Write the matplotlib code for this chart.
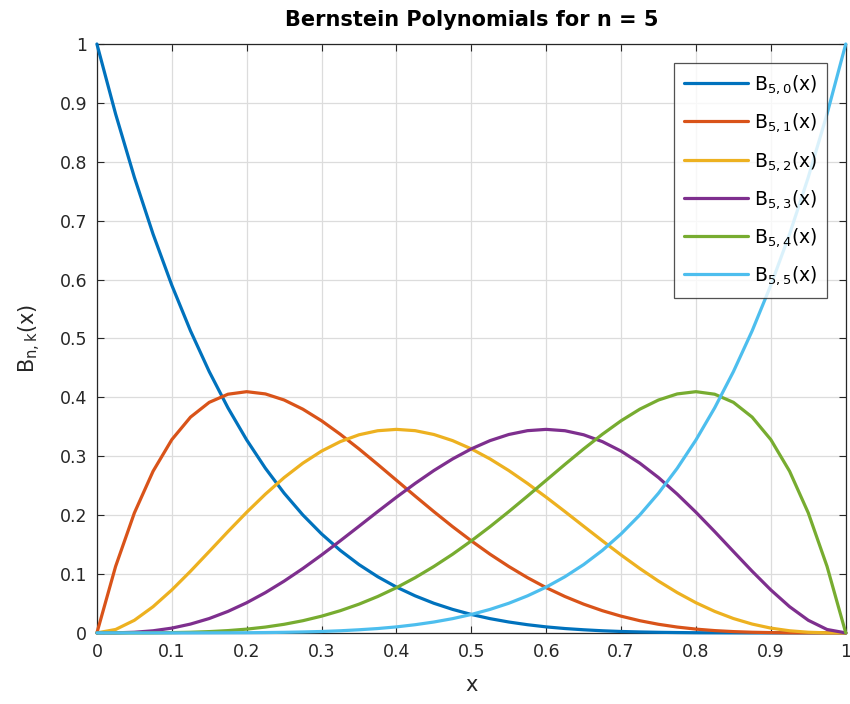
import matplotlib.pyplot as plt

plt.rcParams["font.family"] = ["DejaVu Sans"]
plt.rcParams["mathtext.fontset"] = "custom"
plt.rcParams["mathtext.rm"] = "DejaVu Sans"

# x samples and curve values
x = [i * 0.025 for i in range(41)]
b50 = [1.0000, 0.8811, 0.7738, 0.6772, 0.5905, 0.5129, 0.4437, 0.3822, 0.3277, 0.2796,
       0.2373, 0.2003, 0.1681, 0.1401, 0.1160, 0.0954, 0.0778, 0.0629, 0.0503, 0.0399,
       0.0313, 0.0242, 0.0185, 0.0139, 0.0102, 0.0074, 0.0053, 0.0036, 0.0024, 0.0016,
       0.0010, 0.0006, 0.0003, 0.0002, 0.0001, 0.0000, 0.0000, 0.0000, 0.0000, 0.0000,
       0.0000]
b51 = [0.0000, 0.1130, 0.2036, 0.2745, 0.3281, 0.3664, 0.3915, 0.4053, 0.4096, 0.4058,
       0.3955, 0.3799, 0.3602, 0.3373, 0.3124, 0.2861, 0.2592, 0.2323, 0.2059, 0.1804,
       0.1563, 0.1336, 0.1128, 0.0938, 0.0768, 0.0618, 0.0488, 0.0377, 0.0284, 0.0207,
       0.0146, 0.0099, 0.0064, 0.0039, 0.0022, 0.0011, 0.0005, 0.0001, 0.0000, 0.0000,
       0.0000]
b52 = [0.0000, 0.0058, 0.0214, 0.0445, 0.0729, 0.1047, 0.1382, 0.1720, 0.2048, 0.2356,
       0.2637, 0.2882, 0.3087, 0.3248, 0.3364, 0.3433, 0.3456, 0.3434, 0.3369, 0.3265,
       0.3125, 0.2954, 0.2757, 0.2538, 0.2304, 0.2060, 0.1811, 0.1564, 0.1323, 0.1093,
       0.0879, 0.0684, 0.0512, 0.0365, 0.0244, 0.0150, 0.0081, 0.0036, 0.0011, 0.0001,
       0.0000]
b53 = [0.0000, 0.0001, 0.0011, 0.0036, 0.0081, 0.0150, 0.0244, 0.0365, 0.0512, 0.0684,
       0.0879, 0.1093, 0.1323, 0.1564, 0.1811, 0.2060, 0.2304, 0.2538, 0.2757, 0.2954,
       0.3125, 0.3265, 0.3369, 0.3434, 0.3456, 0.3433, 0.3364, 0.3248, 0.3087, 0.2882,
       0.2637, 0.2356, 0.2048, 0.1720, 0.1382, 0.1047, 0.0729, 0.0445, 0.0214, 0.0058,
       0.0000]
b54 = [0.0000, 0.0000, 0.0000, 0.0001, 0.0005, 0.0011, 0.0022, 0.0039, 0.0064, 0.0099,
       0.0146, 0.0207, 0.0284, 0.0377, 0.0488, 0.0618, 0.0768, 0.0938, 0.1128, 0.1336,
       0.1563, 0.1804, 0.2059, 0.2323, 0.2592, 0.2861, 0.3124, 0.3373, 0.3602, 0.3799,
       0.3955, 0.4058, 0.4096, 0.4053, 0.3915, 0.3664, 0.3281, 0.2745, 0.2036, 0.1130,
       0.0000]
b55 = [0.0000, 0.0000, 0.0000, 0.0000, 0.0000, 0.0000, 0.0001, 0.0002, 0.0003, 0.0006,
       0.0010, 0.0016, 0.0024, 0.0036, 0.0053, 0.0074, 0.0102, 0.0139, 0.0185, 0.0242,
       0.0313, 0.0399, 0.0503, 0.0629, 0.0778, 0.0954, 0.1160, 0.1401, 0.1681, 0.2003,
       0.2373, 0.2796, 0.3277, 0.3822, 0.4437, 0.5129, 0.5905, 0.6772, 0.7738, 0.8811,
       1.0000]
series = [b50, b51, b52, b53, b54, b55]
labels = [r"$\mathregular{B_{5,%d}(x)}$" % k for k in range(6)]
colors = ["#0072BD", "#D95319", "#EDB120", "#7E2F8E", "#77AC30", "#4DBEEE"]
ticks = [0, 0.1, 0.2, 0.3, 0.4, 0.5, 0.6, 0.7, 0.8, 0.9, 1]
tick_labels = ["0", "0.1", "0.2", "0.3", "0.4", "0.5", "0.6", "0.7", "0.8", "0.9", "1"]


def main():
    fig = plt.figure(figsize=(8.5, 7.04), dpi=100)
    ax = fig.add_axes([0.114, 0.101, 0.881, 0.8365])
    for ys, lab, c in zip(series, labels, colors):
        ax.plot(x, ys, color=c, lw=2.3, label=lab, clip_on=False, zorder=3,
                solid_capstyle="round")

    ax.set_xlim(0, 1)
    ax.set_ylim(0, 1)
    ax.set_xticks(ticks)
    ax.set_xticklabels(tick_labels)
    ax.set_yticks(ticks)
    ax.set_yticklabels(tick_labels)
    ax.grid(True, color="#dcdcdc", lw=0.9)
    ax.set_axisbelow(True)
    ax.tick_params(direction="in", length=5, labelsize=12.5, colors="#262626",
                   top=True, right=True, pad=7)
    for s in ax.spines.values():
        s.set_color("#262626")
        s.set_linewidth(0.9)

    ax.set_title("Bernstein Polynomials for n = 5", fontsize=15, fontweight="bold", pad=13)
    ax.set_xlabel("x", fontsize=15, color="#262626", labelpad=10)
    ax.set_ylabel(r"$\mathregular{B_{n,k}(x)}$", fontsize=15, color="#262626", labelpad=12)

    leg = ax.legend(loc="upper right", fontsize=13.5, frameon=True, fancybox=False,
                    edgecolor="#262626", handlelength=3.4, labelspacing=0.82,
                    borderaxespad=1.0, handletextpad=0.3, borderpad=0.55)
    leg.get_frame().set_linewidth(0.9)

    fig.savefig("out.png", dpi=100)


if __name__ == "__main__":
    main()
